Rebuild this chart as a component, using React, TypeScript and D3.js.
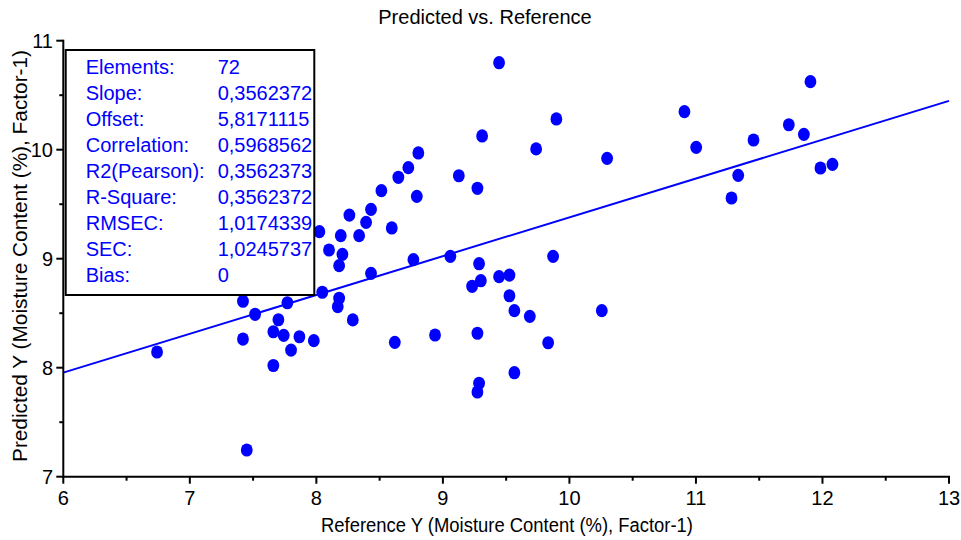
import React from "react";
import * as d3 from "d3";

const referenceY = [6.741, 7.42, 7.42, 7.45, 7.516, 7.66, 7.66, 7.7, 7.742, 7.771, 7.8, 7.866, 7.98, 8.024, 8.047, 8.1, 8.18, 8.169, 8.18, 8.193, 8.206, 8.261, 8.288, 8.338, 8.393, 8.432, 8.432, 8.514, 8.596, 8.62, 8.648, 8.727, 8.767, 8.794, 8.806, 8.938, 9.059, 9.126, 9.231, 9.273, 9.273, 9.273, 9.286, 9.286, 9.3, 9.31, 9.444, 9.444, 9.526, 9.526, 9.565, 9.565, 9.687, 9.737, 9.832, 9.871, 9.897, 10.256, 10.298, 10.909, 11.002, 11.281, 11.334, 11.455, 11.734, 11.853, 11.905, 11.984, 12.079];
const predictedY = [8.144, 8.61, 8.263, 7.245, 8.49, 8.33, 8.02, 8.44, 8.297, 8.596, 8.162, 8.284, 8.248, 9.248, 8.692, 9.08, 8.637, 8.56, 8.936, 9.211, 9.04, 9.4, 8.438, 9.211, 9.334, 9.453, 8.866, 9.624, 9.282, 8.233, 9.747, 9.835, 8.991, 9.572, 9.97, 8.3, 9.022, 9.761, 8.747, 9.646, 8.316, 7.777, 8.954, 7.857, 8.798, 10.126, 10.798, 8.835, 8.85, 8.66, 8.523, 7.954, 8.471, 10.007, 8.229, 9.022, 10.282, 8.523, 9.921, 10.349, 10.022, 9.557, 9.765, 10.089, 10.229, 10.141, 10.624, 9.832, 9.866];

const slope = 0.3562372;
const offset = 5.8171115;

const statLabels = ["Elements:", "Slope:", "Offset:", "Correlation:", "R2(Pearson):", "R-Square:", "RMSEC:", "SEC:", "Bias:"];
const statValues = ["72", "0,3562372", "5,8171115", "0,5968562", "0,3562373", "0,3562372", "1,0174339", "1,0245737", "0"];

const xTicks = [6, 7, 8, 9, 10, 11, 12, 13];
const yTicks = [7, 8, 9, 10, 11];
const xMinor = [6.5, 7.5, 8.5, 9.5, 10.5, 11.5, 12.5];
const yMinor = [7.5, 8.5, 9.5, 10.5];

const FONT = "'Liberation Sans', Arial, sans-serif";
const BLUE = "#0000FF";

export default function App() {
  const x = d3.scaleLinear().domain([6, 13]).range([63.3, 949]);
  const y = d3.scaleLinear().domain([7, 11]).range([476.7, 40.7]);
  const [x0, x1] = x.domain();
  const linePath = d3.line<number>()
    .x((d) => x(d))
    .y((d) => y(offset + slope * d))([x0, x1]);

  return (
    <svg width={961} height={540} style={{ position: "absolute", left: 0, top: 0, background: "#fff" }} fontFamily={FONT}>
      <rect x={0} y={0} width={961} height={540} fill="#fff" />
      <text x={485} y={24} fontSize={20} textAnchor="middle" fill="#000">Predicted vs. Reference</text>

      {/* regression line */}
      <path d={linePath ?? ""} stroke={BLUE} strokeWidth={2} fill="none" />

      {/* points */}
      {referenceY.map((rv, i) => (
        <ellipse key={i} cx={x(rv)} cy={y(predictedY[i])} rx={5.9} ry={6.6} fill={BLUE} />
      ))}

      {/* axes */}
      <line x1={x(6)} x2={x(6)} y1={y(11) - 1} y2={y(7) + 1} stroke="#000" strokeWidth={2} />
      <line x1={x(6) - 1} x2={x(13) + 1} y1={y(7)} y2={y(7)} stroke="#000" strokeWidth={2} />
      {xTicks.map((t) => (
        <g key={"xt" + t}>
          <line x1={x(t)} x2={x(t)} y1={y(7)} y2={y(7) + 7} stroke="#000" strokeWidth={2} />
          <text x={x(t)} y={505} fontSize={20} textAnchor="middle" fill="#000">{t}</text>
        </g>
      ))}
      {xMinor.map((t) => (
        <line key={"xm" + t} x1={x(t)} x2={x(t)} y1={y(7)} y2={y(7) + 4} stroke="#000" strokeWidth={2} />
      ))}
      {yTicks.map((t) => (
        <g key={"yt" + t}>
          <line x1={x(6) - 7} x2={x(6)} y1={y(t)} y2={y(t)} stroke="#000" strokeWidth={2} />
          <text x={53} y={y(t) + 7} fontSize={20} textAnchor="end" fill="#000">{t}</text>
        </g>
      ))}
      {yMinor.map((t) => (
        <line key={"ym" + t} x1={x(6) - 4} x2={x(6)} y1={y(t)} y2={y(t)} stroke="#000" strokeWidth={2} />
      ))}

      <text x={507} y={531.5} fontSize={20} textAnchor="middle" fill="#000" textLength={372} lengthAdjust="spacingAndGlyphs">Reference Y (Moisture Content (%), Factor-1)</text>
      <text transform="translate(27,256) rotate(-90)" x={0} y={0} fontSize={20} textAnchor="middle" fill="#000" textLength={412} lengthAdjust="spacingAndGlyphs">Predicted Y (Moisture Content (%), Factor-1)</text>

      {/* stats box */}
      <rect x={65.7} y={50} width={248.6} height={245} fill="#fff" stroke="#000" strokeWidth={2} />
      {statLabels.map((l, i) => (
        <g key={"s" + i}>
          <text x={85.7} y={74 + i * 26} fontSize={20} fill={BLUE}>{l}</text>
          <text x={217.7} y={74 + i * 26} fontSize={20} fill={BLUE}>{statValues[i]}</text>
        </g>
      ))}
    </svg>
  );
}
